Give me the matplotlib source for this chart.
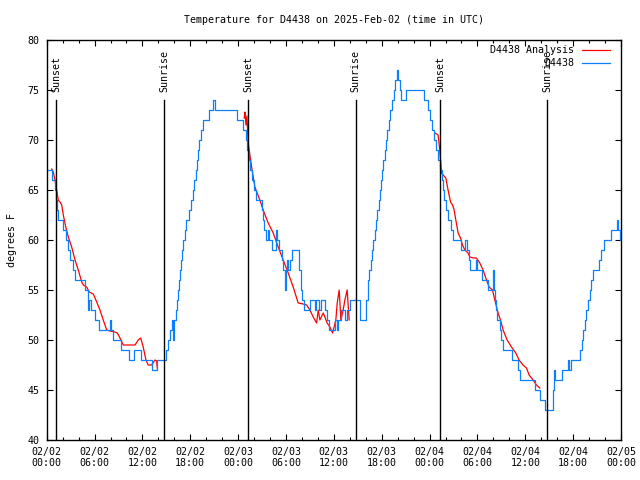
"""Observed vs analysed temperature for D4438, gnuplot-style line chart."""
import matplotlib

matplotlib.use("Agg")

import matplotlib.pyplot as plt  # noqa: E402
from matplotlib.ticker import MultipleLocator  # noqa: E402

# hours since 2025-02-02 00:00 UTC
OBS_HOURS = [0.2, 0.63, 1.0, 1.15, 1.28, 1.4, 2.1, 2.4, 2.65, 2.95, 3.3, 3.6, 4.85, 5.15,
             5.3, 5.55, 6.1, 6.5, 7.95, 8.05, 8.3, 9.3, 10.3, 10.9, 11.8, 13.2, 13.8,
             15.0, 15.2, 15.45, 15.65, 15.85, 15.95, 16.15, 16.3, 16.45, 16.6, 16.75,
             16.85, 16.95, 17.1, 17.3, 17.5, 17.9, 18.1, 18.3, 18.5, 18.7, 18.85, 19.0,
             19.15, 19.35, 19.6, 20.3, 20.9, 21.1, 23.9, 24.65, 24.95, 25.15, 25.35,
             25.55, 25.75, 25.95, 26.25, 26.95, 27.15, 27.3, 27.5, 27.75, 27.9, 28.3,
             28.7, 28.85, 29.1, 29.45, 29.65, 29.85, 29.95, 30.1, 30.25, 30.5, 30.7,
             31.65, 31.85, 32.05, 32.25, 32.95, 33.6, 33.8, 34.1, 34.4, 34.95, 35.2,
             35.4, 36.15, 36.35, 36.5, 36.9, 37.45, 37.65, 38.0, 39.25, 40.05, 40.25,
             40.45, 40.65, 40.8, 40.95, 41.1, 41.3, 41.45, 41.6, 41.75, 41.9, 42.05,
             42.2, 42.35, 42.5, 42.7, 42.9, 43.1, 43.3, 43.5, 43.7, 43.9, 44.1, 44.3,
             44.45, 45.1, 47.35, 47.8, 48.1, 48.3, 48.5, 48.8, 49.1, 49.35, 49.55, 49.7,
             49.85, 50.05, 50.25, 50.7, 50.9, 51.95, 52.4, 52.75, 52.9, 53.1, 53.8,
             53.95, 54.6, 55.35, 55.95, 56.05, 56.15, 56.35, 56.5, 56.8, 57.0, 57.25,
             58.35, 59.1, 59.4, 61.2, 61.8, 62.5, 63.45, 63.6, 63.75, 64.6, 65.3, 65.5,
             65.75, 66.9, 67.1, 67.25, 67.45, 67.65, 67.85, 68.1, 68.3, 68.55, 69.3,
             69.55, 69.85, 70.8, 71.5, 71.65, 71.85, 72.0]
OBS_TEMPS = [67, 66, 65, 64, 63, 62, 61, 60, 59, 58, 57, 56, 55, 53,
             54, 53, 52, 51, 52, 51, 50, 49, 48, 49, 48, 47, 48,
             49, 50, 51, 52, 50, 52, 53, 54, 55, 56, 57,
             58, 59, 60, 61, 62, 63, 64, 65, 66, 67, 68, 69,
             70, 71, 72, 73, 74, 73, 72, 71, 70, 69, 68,
             67, 66, 65, 64, 63, 62, 61, 60, 61, 60, 59,
             61, 60, 59, 58, 57, 55, 57, 58, 57, 58, 59,
             57, 55, 54, 53, 54, 53, 54, 53, 54, 53, 52,
             51, 52, 51, 52, 53, 52, 53, 54, 52, 54, 56,
             57, 58, 59, 60, 61, 62, 63, 64, 65, 66, 67,
             68, 69, 70, 71, 72, 73, 74, 75, 76, 77, 76, 75,
             74, 75, 74, 73, 72, 71, 70, 69, 68, 67, 66, 65,
             64, 63, 62, 61, 60, 59, 60, 59, 58, 57, 58,
             57, 56, 55, 57, 55, 54, 53, 52, 51, 50, 49,
             48, 47, 46, 45, 44, 43, 45, 47, 46, 47, 48, 47,
             48, 49, 50, 51, 52, 53, 54, 55, 56, 57, 58,
             59, 60, 61, 62, 61, 60, 60]

# analysis runs in three night-time pieces
ANL1_HOURS = [0.63, 0.83, 1.04, 1.25, 1.45, 1.67, 1.88, 2.08, 2.42, 2.71, 3.13, 3.55,
              3.96, 4.39, 4.59, 5.01, 5.34, 5.84, 6.27, 6.68, 7.09, 7.52, 7.93, 8.56,
              8.85, 9.19, 9.6, 11.07, 11.48, 11.78, 12.1, 12.44, 12.73, 13.16, 13.57,
              13.78, 13.86]
ANL1_TEMPS = [67.1, 66.8, 66.0, 65.0, 64.0, 63.8, 63.5, 62.5, 61.2, 60.3, 59.3, 58.0,
              57.0, 55.8, 55.5, 55.3, 54.8, 54.6, 53.8, 53.0, 52.0, 51.0, 50.9, 50.8,
              50.7, 50.2, 49.5, 49.5, 50.0, 50.2, 49.3, 48.0, 47.5, 47.5, 48.0,
              47.9, 47.2]
ANL2_HOURS = [24.76, 24.85, 24.98, 25.1, 25.26, 25.69, 26.1, 26.72, 27.14, 27.77, 28.4,
              29.02, 29.65, 30.28, 30.9, 31.53, 32.16, 32.58, 33.0, 33.41, 33.84, 34.04,
              34.25, 34.66, 34.88, 35.16, 35.5, 35.84, 36.25, 36.42, 36.67, 36.88, 37.17,
              37.38, 37.67, 37.92]
ANL2_TEMPS = [72.2, 72.8, 71.5, 72.4, 69.7, 67.3, 65.3, 64.0, 63.0, 61.7, 60.7,
              59.3, 58.0, 56.7, 55.3, 53.7, 53.6, 53.5, 53.0, 52.3, 51.7, 53.0,
              52.0, 52.7, 52.3, 51.7, 51.3, 50.7, 52.0, 53.7, 55.0, 52.0, 53.0,
              54.0, 55.0, 52.0]
ANL3_HOURS = [48.66, 49.07, 49.28, 49.5, 49.7, 50.04, 50.32, 50.63, 50.88, 51.08, 51.29,
              51.58, 51.88, 52.13, 52.42, 52.83, 53.05, 53.55, 53.88, 54.3, 54.71, 55.05,
              55.46, 55.89, 56.18, 56.59, 56.89, 57.22, 57.72, 58.27, 58.81, 59.22, 59.72,
              60.15, 60.48, 60.98, 61.4, 61.82]
ANL3_TEMPS = [70.7, 70.5, 69.0, 66.7, 66.5, 66.2, 65.0, 63.8, 63.5, 63.0, 62.0,
              60.7, 60.2, 59.5, 59.0, 58.7, 58.3, 58.2, 58.2, 57.7, 57.0, 56.2,
              55.3, 55.0, 54.0, 52.7, 52.0, 51.0, 50.0, 49.3, 48.7, 48.0, 47.5,
              47.2, 46.5, 46.0, 45.5, 45.2]

SUN_HOURS = [1.17, 14.74, 25.27, 38.76, 49.35, 62.75]
SUN_LABELS = ["Sunset", "Sunrise", "Sunset", "Sunrise", "Sunset", "Sunrise"]

TICK_HOURS = list(range(0, 73, 6))
TICK_LABELS = [f"02/{2 + h // 24:02d}\n{h % 24:02d}:00" for h in TICK_HOURS]

RED = "#ff0000"
BLUE = "#0a80ff"
FONT = "DejaVu Sans Mono"
FS = 7.2


def main() -> None:
    plt.rcParams["font.family"] = FONT
    plt.rcParams["font.size"] = FS
    fig = plt.figure(figsize=(6.4, 4.8), dpi=100)
    ax = fig.add_axes([46.7 / 640, 40 / 480, 574.3 / 640, 400 / 480])

    for h, t in ((ANL1_HOURS, ANL1_TEMPS), (ANL2_HOURS, ANL2_TEMPS),
                 (ANL3_HOURS, ANL3_TEMPS)):
        ax.plot(h, t, color=RED, lw=0.9, zorder=2)
    ax.plot(OBS_HOURS, OBS_TEMPS, color=BLUE, lw=0.9, drawstyle="steps-post", zorder=3)

    for h, lab in zip(SUN_HOURS, SUN_LABELS):
        ax.plot([h, h], [40, 74], color="black", lw=1.0, zorder=4)
        ax.text(h, 74.8, lab, rotation=90, ha="center", va="bottom", fontsize=FS)

    ax.set_xlim(0, 72)
    ax.set_ylim(40, 80)
    ax.set_xticks(TICK_HOURS)
    ax.set_xticklabels(TICK_LABELS, linespacing=1.15)
    ax.xaxis.set_minor_locator(MultipleLocator(2))
    ax.yaxis.set_major_locator(MultipleLocator(5))
    ax.tick_params(which="both", direction="in", top=True, right=True, width=0.8)
    ax.tick_params(which="major", length=4.5)
    ax.tick_params(which="minor", length=2.2)
    ax.tick_params(axis="x", pad=5, labelsize=FS)
    ax.tick_params(axis="y", pad=5, labelsize=FS)
    for s in ax.spines.values():
        s.set_linewidth(1.0)

    # gnuplot-style key: right-aligned text, sample to its right
    ax.text(0.918, 0.975, "D4438 Analysis", transform=ax.transAxes, ha="right",
            va="center", fontsize=FS)
    ax.plot([0.932, 0.981], [0.975, 0.975], transform=ax.transAxes, color=RED, lw=0.9)
    ax.text(0.918, 0.943, "D4438", transform=ax.transAxes, ha="right",
            va="center", fontsize=FS)
    ax.plot([0.932, 0.981], [0.943, 0.943], transform=ax.transAxes, color=BLUE, lw=0.9)

    fig.text(333.8 / 640, 1 - 20 / 480, "Temperature for D4438 on 2025-Feb-02 (time in UTC)",
             ha="center", va="center", fontsize=FS)
    fig.text(12 / 640, 0.5, "degrees F", rotation=90, ha="center", va="center",
             fontsize=FS)

    fig.savefig("out.png", dpi=100)
    plt.close(fig)


if __name__ == "__main__":
    main()
